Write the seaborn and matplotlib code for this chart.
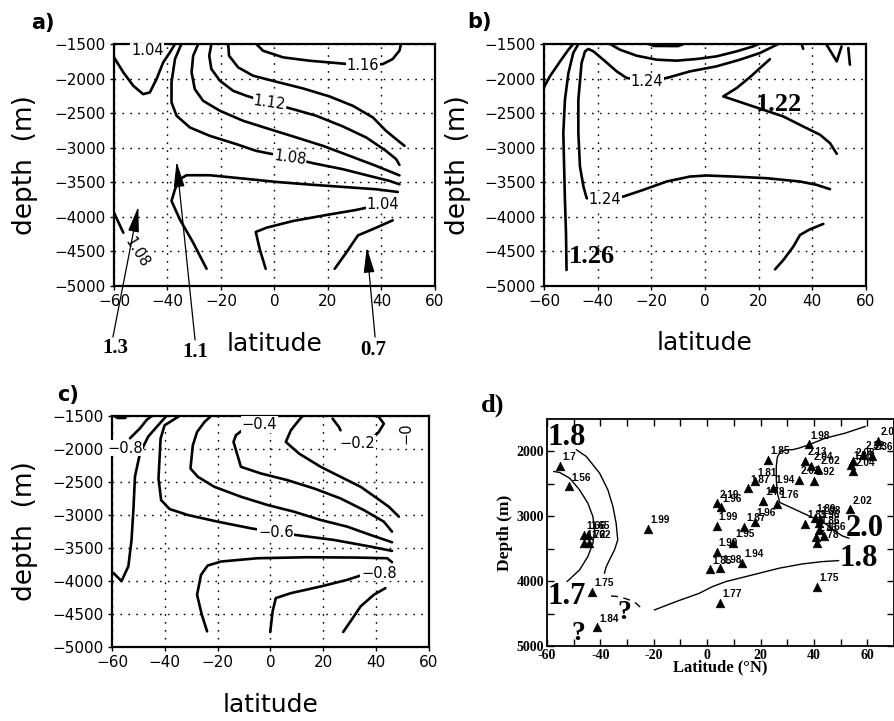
import matplotlib
matplotlib.use("Agg")
import matplotlib.pyplot as plt
import seaborn as sns

sns.set_theme(style="white")
plt.rcParams["font.family"] = ["DejaVu Sans"]
plt.rcParams["axes.unicode_minus"] = True
for key in ["text.color", "axes.labelcolor", "xtick.color", "ytick.color", "axes.edgecolor"]:
    plt.rcParams[key] = "black"

# ---------------- axis ticks ----------------
LAT_TICKS = [-60, -40, -20, 0, 20, 40, 60]
LAT_TICK_LABELS = ["\u221260", "\u221240", "\u221220", "0", "20", "40", "60"]
DEPTH_TICKS = [-1500, -2000, -2500, -3000, -3500, -4000, -4500, -5000]
DEPTH_TICK_LABELS = ["\u22121500", "\u22122000", "\u22122500", "\u22123000",
                     "\u22123500", "\u22124000", "\u22124500", "\u22125000"]
D_LAT_TICK_LABELS = ["-60", "-40", "-20", "0", "20", "40", "60"]
D_DEPTH_TICKS = [2000, 3000, 4000, 5000]
D_DEPTH_TICK_LABELS = ["2000", "3000", "4000", "5000"]

# ---------------- panel a: contour polylines ----------------
A1_LAT = [-60, -56.5, -52.8, -49.1, -46.6, -44.1, -41.6, -39.1, -37.2]
A1_DEP = [-1693, -1911, -2104, -2225, -2200, -2007, -1766, -1621, -1500]
A2_LAT = [-34.8, -37.2, -38.5, -38.5, -36.6, -31.6, -24.2, -14.2, -6.8, 5.7, 14.4, 25.6, 35.5, 43.0, 46.7]
A2_DEP = [-1500, -1717, -2055, -2345, -2538, -2708, -2828, -2949, -3046, -3142, -3224, -3311, -3408, -3480, -3529]
A3_LAT = [-28.5, -30.4, -31.0, -29.8, -26.7, -20.4, -11.7, -1.8, 8.2, 18.1, 28.1, 38.0, 44.2, 46.7]
A3_DEP = [-1500, -1669, -1911, -2152, -2321, -2466, -2611, -2732, -2852, -2973, -3118, -3263, -3360, -3400]
A4_LAT = [-23.6, -24.4, -23.6, -20.4, -15.5, -10.5, -1.8, 6.9, 15.6, 25.6, 34.3, 41.7, 45.5, 46.7]
A4_DEP = [-1500, -1669, -1862, -2031, -2176, -2249, -2355, -2442, -2538, -2693, -2852, -3046, -3166, -3248]
A5_LAT = [-17.3, -17.0, -13.6, -8.0, 0.7, 10.6, 20.6, 29.3, 36.8, 41.7, 45.5, 48.6]
A5_DEP = [-1500, -1669, -1838, -1959, -2046, -2142, -2259, -2394, -2563, -2756, -2877, -2973]
A6_LAT = [-6.8, -4.3, 3.2, 13.1, 23.1, 33.0, 40.5, 44.2, 46.7, 47.3]
A6_DEP = [-1500, -1597, -1693, -1742, -1775, -1810, -1790, -1717, -1597, -1500]
A7_LAT = [-25.4, -30.4, -35.4, -38.5, -37.2, -35.4, -32.9, -24.2, -11.7, 0.7, 13.1, 25.6, 38.0, 46.1]
A7_DEP = [-4751, -4374, -4036, -3770, -3601, -3456, -3398, -3398, -3446, -3495, -3533, -3567, -3601, -3640]
A8_LAT = [-3.3, -5.5, -7.0, -3.0, 6.9, 19.4, 30.5, 40.5]
A8_DEP = [-4751, -4470, -4219, -4157, -4060, -3973, -3900, -3818]
A9_LAT = [22.5, 26.8, 31.2, 38.0, 44.2]
A9_DEP = [-4751, -4519, -4268, -4157, -4050]
A10_LAT = [-60, -58.4, -56.5]
A10_DEP = [-3939, -4074, -4229]

# contour labels of panel a: (text, lat, depth, rotation)
A_LABEL_TEXT = ["1.04", "1.08", "1.12", "1.16", "1.04", "1.08"]
A_LABEL_LAT = [-47.5, 5.7, -1.8, 33.0, 40.5, -51.5]
A_LABEL_DEP = [-1600, -3140, -2350, -1815, -3818, -4520]
A_LABEL_ROT = [0, -8, -8, 0, 0, -58]

# arrows pointing into panel a and their values
ARROW_TEXT = ["1.3", "1.1", "0.7"]
ARROW_HEAD_LAT = [-50.9, -36.6, 34.5]
ARROW_HEAD_DEP = [-3853, -3202, -4441]
ARROW_TAIL_LAT = [-60.4, -29.7, 37.6]
ARROW_TAIL_DEP = [-5738, -5781, -5738]
ARROW_TEXT_LAT = [-59.6, -29.7, 36.9]
ARROW_TEXT_DEP = [-5900, -5960, -5930]

# ---------------- panel b ----------------
B1_LAT = [-60, -57.8, -54.0, -50.9, -49.1]
B1_DEP = [-2123, -1968, -1751, -1582, -1500]
B2_LAT = [-47.2, -49.1, -50.9, -52.2, -52.8, -52.5, -52.2, -51.8, -51.6]
B2_DEP = [-1500, -1630, -1920, -2306, -2789, -3272, -3755, -4237, -4769]
B3_LAT = [46.6, 41.6, 35.4, 23.0, 10.6, 0.6, -5.6, -14.3, -23.0, -30.4, -37.3, -44.1, -45.3,
          -46.6, -47.2, -47.2, -46.0, -44.7, -43.5, -41.6, -37.9, -32.9, -29.2, -21.7, -14.3,
          -5.6, 4.3, 13.0, 20.5, 27.3]
B3_DEP = [-3600, -3537, -3489, -3441, -3417, -3402, -3417, -3489, -3610, -3706, -3740, -3730, -3562,
          -3272, -2789, -2306, -1775, -1606, -1572, -1606, -1727, -1896, -1992, -2030, -1992,
          -1896, -1823, -1727, -1630, -1500]
B4_LAT = [49.1, 46.6, 42.9, 36.6, 29.2, 21.7, 14.3, 6.8, 11.8, 16.8, 20.5, 24.2]
B4_DEP = [-3088, -2934, -2813, -2693, -2548, -2451, -2355, -2258, -2137, -1978, -1848, -1720]
B5_LAT = [26.1, 29.2, 32.9, 35.4, 39.1, 44.1]
B5_DEP = [-4759, -4624, -4431, -4262, -4180, -4102]
B6_LAT = [-35.4, -31.7, -25.5, -18.0, -10.6, -3.1, 4.3, 11.8, 18.0, 19.9]
B6_DEP = [-1500, -1582, -1669, -1727, -1741, -1717, -1679, -1606, -1534, -1500]
B7_LAT = [45.3, 49.1, 50.9]
B7_DEP = [-1510, -1751, -1534]
B8_LAT = [53.4, 54.0]
B8_DEP = [-1558, -1799]
B9_LAT = [-21.0, -19.0, -10.0, -8.0]
B9_DEP = [-1500, -1528, -1530, -1500]
B10_LAT = [36.0, 36.6]
B10_DEP = [-1500, -1570]

B_LABEL_TEXT = ["1.24", "1.24"]
B_LABEL_LAT = [-21.7, -37.3]
B_LABEL_DEP = [-2040, -3750]
B_BIG_TEXT = ["1.22", "1.26"]
B_BIG_LAT = [27.5, -42.0]
B_BIG_DEP = [-2380, -4575]

# ---------------- panel c ----------------
C1_LAT = [-59.5, -56.4, -53.8, -52.6, -51.9, -51.3, -49.4, -46.3, -41.9, -39.4]
C1_DEP = [-3876, -4002, -3776, -3373, -2920, -2416, -2064, -1812, -1611, -1500]
C2_LAT = [-53.2, -49.4, -46.9, -45.0]
C2_DEP = [-1837, -1686, -1560, -1500]
C3_LAT = [-34.5, -40.1, -41.6, -42.4, -41.4, -38.2, -31.3, -20.0, -7.4, 2.0, 9.6, 24.0, 37.9, 46.0]
C3_DEP = [-1500, -1641, -1842, -2447, -2774, -2910, -3000, -3101, -3202, -3262, -3303, -3378, -3479, -3544]
C4_LAT = [-22.5, -25.0, -27.8, -29.4, -30.3, -27.5, -21.3, -11.2, -1.1, 8.9, 19.0, 29.1, 37.9, 46.0]
C4_DEP = [-1500, -1591, -1742, -1943, -2296, -2421, -2572, -2723, -2849, -2950, -3076, -3177, -3303, -3413]
C5_LAT = [2.0, 0.8, -4.3, -9.9, -13.1, -14.0, -12.5, -11.2, -3.6, 6.4, 16.5, 26.5, 35.3, 42.9, 46.0]
C5_DEP = [-1500, -1566, -1631, -1691, -1792, -1893, -2094, -2270, -2371, -2472, -2598, -2749, -2925, -3101, -3252]
C6_LAT = [12.1, 10.2, 7.7, 5.8, 10.8, 19.0, 26.5, 34.1, 40.4, 44.8, 48.6]
C6_DEP = [-1500, -1591, -1717, -1893, -2069, -2270, -2421, -2572, -2749, -2875, -3026]
C7_LAT = [23.5, 25.9, 26.5]
C7_DEP = [-1540, -1666, -1717]
C8_LAT = [41.0, 42.9, 41.0, 39.1]
C8_DEP = [-1515, -1616, -1742, -1817]
C9_LAT = [-24.0, -26.0, -27.8, -26.3, -23.8, -18.7, -4.9, 14.0, 32.8, 44.2, 46.0]
C9_DEP = [-4763, -4511, -4209, -3907, -3766, -3705, -3655, -3640, -3645, -3655, -3715]
C10_LAT = [-0.1, 0.8, 2.0, 7.7, 19.0, 29.1, 34.1, 41.0]
C10_DEP = [-4773, -4460, -4259, -4184, -4083, -3982, -3917, -3882]
C11_LAT = [27.5, 30.3, 34.1, 39.1, 43.5]
C11_DEP = [-4773, -4611, -4385, -4209, -4108]
C12_LAT = [-59.0, -58.0, -55.0, -54.5]
C12_DEP = [-1500, -1530, -1530, -1500]

C_LABEL_TEXT = ["\u22120.8", "\u22120.6", "\u22120.4", "\u22120.2", "\u22120.8", "\u22120"]
C_LABEL_LAT = [-55.1, 2.0, -4.3, 32.8, 41.0, 51.2]
C_LABEL_DEP = [-1988, -3262, -1631, -1918, -3882, -1760]
C_LABEL_ROT = [0, 0, 0, 0, 0, 90]

# ---------------- panel d: station values ----------------
D_PT_LAT = [-55.2, -51.7, -46.1, -44.6, -46.1, -44.3, -22.2, -43.1, -41.3,
            38.0, 22.9, 36.8, 39.0, 41.7, 34.3, 39.9, 17.9, 15.4, 24.6, 20.9, 26.2,
            3.8, 5.1, 64.1, 61.6, 58.5, 54.8, 53.9, 54.8, 53.6,
            3.6, 13.8, 17.8, 9.8, 3.6, 1.0, 4.9, 13.2, 4.9, 41.1,
            36.8, 40.3, 42.1, 41.8, 41.8, 43.9, 40.7, 41.1]
D_PT_DEP = [2221, 2540, 3286, 3286, 3415, 3415, 3193, 4162, 4711,
            1886, 2128, 2144, 2221, 2272, 2437, 2452, 2463, 2565, 2565, 2761, 2807,
            2797, 2858, 1835, 2066, 2051, 2154, 2205, 2309, 2890,
            3147, 3158, 3081, 3405, 3544, 3816, 3801, 3713, 4331, 4084,
            3116, 3019, 3044, 3106, 3209, 3301, 3312, 3415]
D_PT_TEXT = ["1.7", "1.56", "1.66", "1.65", "1.72", "1.62", "1.99", "1.75", "1.84",
             "1.98", "1.85", "2.13", "2.04", "2.02", "2.01", "1.92", "1.81", "1.87", "1.94", "1.78", "1.76",
             "2.19", "1.96", "2.07", "2.36", "2.32", "2.08", "1.98", "2.04", "2.02",
             "1.99", "1.87", "1.96", "1.95", "1.99", "1.85", "1.98", "1.94", "1.77", "1.75",
             "1.85", "1.89", "1.98", "1.96", "1.86", "1.66", "1.76", "1.78"]

# ---------------- panel d: contour polylines ----------------
D1_LAT = [-49.0, -45.3, -40.3, -37.2, -35.3, -34.1, -33.5, -34.7, -36.6, -37.8, -38.5]
D1_DEP = [1974, 2077, 2335, 2592, 2849, 3107, 3364, 3518, 3673, 3776, 3879]
D2_LAT = [-57.5, -55.3, -51.5, -47.8, -44.7, -42.8, -42.2, -42.8, -44.7, -47.8, -52.5]
D2_DEP = [2309, 2324, 2412, 2592, 2798, 3004, 3210, 3415, 3621, 3827, 4007]
D3_LAT = [-36.0, -32.9, -29.1, -26.6, -25.0]
D3_DEP = [4229, 4239, 4290, 4342, 4404]
D4_LAT = [-19.8, -11.7, -3.0, 2.0, 7.0, 17.0, 26.9, 35.6, 43.1, 49.3]
D4_DEP = [4445, 4316, 4188, 4084, 4007, 3904, 3801, 3735, 3699, 3683]
D5_LAT = [59.3, 51.8, 44.4, 38.1, 34.4, 31.9, 30.0, 27.5, 26.3, 25.9, 25.9, 26.3, 27.2,
          31.9, 38.1, 44.4, 48.1, 50.6, 53.1]
D5_DEP = [1614, 1717, 1794, 1897, 1949, 1974, 1974, 2000, 2088, 2232, 2437, 2643, 2787,
          2875, 2993, 3117, 3235, 3302, 3338]

D_BIG_TEXT = ["1.8", "1.7", "2.0", "1.8", "?", "?"]
D_BIG_LAT = [-59.8, -59.8, 59.2, 56.7, -30.9, -48.3]
D_BIG_DEP = [1790, 4230, 3190, 3650, 4480, 4800]
D_BIG_HA = ["left", "left", "center", "center", "center", "center"]

# ---------------------------------------------------------------
fig = plt.figure(figsize=(8.95, 7.21), dpi=100)


def contour_line(ax, lat, dep, lw=1.9, ls="-"):
    sns.lineplot(x=lat, y=dep, ax=ax, sort=False, estimator=None, color="black",
                 linewidth=lw, linestyle=ls, legend=False)


def contour_label(ax, text, lat, dep, rot=0, size=10.5):
    ax.text(lat, dep, text, ha="center", va="center", rotation=rot, fontsize=size,
            color="black", zorder=5,
            bbox=dict(boxstyle="square,pad=0.05", fc="white", ec="none"))


def grads_axes(rect, xlab_y, ylab_x):
    ax = fig.add_axes(rect)
    ax.set_xlim(-60, 60)
    ax.set_ylim(-5000, -1500)
    ax.set_xticks(LAT_TICKS, LAT_TICK_LABELS)
    ax.set_yticks(DEPTH_TICKS, DEPTH_TICK_LABELS)
    ax.tick_params(direction="out", length=3, width=1, labelsize=11, pad=3,
                   bottom=True, left=True, colors="black")
    ax.grid(True, color="black", linestyle=(0, (1.2, 4.5)), linewidth=1.0)
    for s in ax.spines.values():
        s.set_color("black")
        s.set_linewidth(1.6)
    ax.set_xlabel("latitude", fontsize=18, va="center")
    ax.set_ylabel("depth  (m)", fontsize=19, va="center")
    ax.xaxis.set_label_coords(0.5, xlab_y)
    ax.yaxis.set_label_coords(ylab_x, 0.5)
    return ax


# ---------------- panel a ----------------
ax_a = grads_axes([114 / 895, 1 - 286 / 721, 321 / 895, 242 / 721], -0.24, -0.277)
for la, de in [(A1_LAT, A1_DEP), (A2_LAT, A2_DEP), (A3_LAT, A3_DEP), (A4_LAT, A4_DEP),
               (A5_LAT, A5_DEP), (A6_LAT, A6_DEP), (A7_LAT, A7_DEP), (A8_LAT, A8_DEP),
               (A9_LAT, A9_DEP), (A10_LAT, A10_DEP)]:
    contour_line(ax_a, la, de)
for t, la, de, r in zip(A_LABEL_TEXT, A_LABEL_LAT, A_LABEL_DEP, A_LABEL_ROT):
    contour_label(ax_a, t, la, de, r)
for t, hx, hy, tx, ty, lx, ly in zip(ARROW_TEXT, ARROW_HEAD_LAT, ARROW_HEAD_DEP,
                                     ARROW_TAIL_LAT, ARROW_TAIL_DEP,
                                     ARROW_TEXT_LAT, ARROW_TEXT_DEP):
    ax_a.annotate("", xy=(hx, hy), xytext=(tx, ty), annotation_clip=False, zorder=6,
                  arrowprops=dict(arrowstyle="-|>,head_length=1.3,head_width=0.28",
                                  color="black", lw=0.9, shrinkA=0, shrinkB=0))
    ax_a.text(lx, ly, t, ha="center", va="center", fontsize=15, fontweight="bold",
              family="Liberation Serif", clip_on=False)

# ---------------- panel b ----------------
ax_b = grads_axes([544 / 895, 1 - 286 / 721, 322 / 895, 242 / 721], -0.236, -0.267)
for la, de in [(B1_LAT, B1_DEP), (B2_LAT, B2_DEP), (B3_LAT, B3_DEP), (B4_LAT, B4_DEP),
               (B5_LAT, B5_DEP), (B6_LAT, B6_DEP), (B7_LAT, B7_DEP), (B8_LAT, B8_DEP),
               (B9_LAT, B9_DEP), (B10_LAT, B10_DEP)]:
    contour_line(ax_b, la, de)
for t, la, de in zip(B_LABEL_TEXT, B_LABEL_LAT, B_LABEL_DEP):
    contour_label(ax_b, t, la, de, 0, 10.5)
for t, la, de in zip(B_BIG_TEXT, B_BIG_LAT, B_BIG_DEP):
    ax_b.text(la, de, t, ha="center", va="center", fontsize=19, fontweight="bold",
              family="Liberation Serif", zorder=6)

# ---------------- panel c ----------------
ax_c = grads_axes([112 / 895, 1 - 647 / 721, 317 / 895, 231 / 721], -0.251, -0.274)
for la, de in [(C1_LAT, C1_DEP), (C2_LAT, C2_DEP), (C3_LAT, C3_DEP), (C4_LAT, C4_DEP),
               (C5_LAT, C5_DEP), (C6_LAT, C6_DEP), (C7_LAT, C7_DEP), (C8_LAT, C8_DEP),
               (C9_LAT, C9_DEP), (C10_LAT, C10_DEP), (C11_LAT, C11_DEP), (C12_LAT, C12_DEP)]:
    contour_line(ax_c, la, de)
for t, la, de, r in zip(C_LABEL_TEXT, C_LABEL_LAT, C_LABEL_DEP, C_LABEL_ROT):
    contour_label(ax_c, t, la, de, r)

# ---------------- panel d ----------------
ax_d = fig.add_axes([547 / 895, 1 - 646 / 721, 347 / 895, 227 / 721])
serif = "Liberation Serif"
for la, de in [(D1_LAT, D1_DEP), (D2_LAT, D2_DEP), (D4_LAT, D4_DEP), (D5_LAT, D5_DEP)]:
    contour_line(ax_d, la, de, lw=1.0)
contour_line(ax_d, D3_LAT, D3_DEP, lw=1.0, ls=(0, (5, 4)))
sns.scatterplot(x=D_PT_LAT, y=D_PT_DEP, ax=ax_d, marker="^", s=38, color="black",
                edgecolor="black", linewidth=0.5, legend=False, zorder=4)
for t, la, de in zip(D_PT_TEXT, D_PT_LAT, D_PT_DEP):
    ax_d.annotate(t, (la, de), xytext=(1.5, 2.5), textcoords="offset points",
                  fontsize=7.2, family="Liberation Sans", fontweight="bold",
                  ha="left", va="bottom", zorder=5)
for t, la, de, ha in zip(D_BIG_TEXT, D_BIG_LAT, D_BIG_DEP, D_BIG_HA):
    ax_d.text(la, de, t, ha=ha, va="center", fontsize=22 if t != "?" else 20,
              fontweight="bold", family=serif, zorder=6)
ax_d.set_xlim(-60, 70)
ax_d.set_ylim(5000, 1500)
ax_d.set_xticks(LAT_TICKS, D_LAT_TICK_LABELS)
ax_d.set_yticks(D_DEPTH_TICKS, D_DEPTH_TICK_LABELS)
ax_d.set_xticks(list(range(-50, 70, 20)), minor=True)
ax_d.set_yticks([2500, 3500, 4500], minor=True)
ax_d.tick_params(which="both", direction="in", top=True, right=True, bottom=True, left=True,
                 colors="black", width=1.0)
ax_d.tick_params(which="major", length=5, labelsize=10, pad=2)
ax_d.tick_params(which="minor", length=5)
for lab in ax_d.get_xticklabels() + ax_d.get_yticklabels():
    lab.set_family(serif)
    lab.set_fontweight("bold")
for s in ax_d.spines.values():
    s.set_color("black")
    s.set_linewidth(1.3)
ax_d.set_xlabel("Latitude (\u00b0N)", fontsize=12, fontweight="bold", family=serif, va="center")
ax_d.set_ylabel("Depth (m)", fontsize=12.5, fontweight="bold", family=serif, va="center")
ax_d.xaxis.set_label_coords(0.5, -0.093)
ax_d.yaxis.set_label_coords(-0.121, 0.5)
ax_d.grid(False)

# ---------------- panel letters ----------------
fig.text(43 / 895, 1 - 23 / 721, "a)", fontsize=15, fontweight="bold", ha="center", va="center")
fig.text(480 / 895, 1 - 22 / 721, "b)", fontsize=15, fontweight="bold", ha="center", va="center")
fig.text(68 / 895, 1 - 395 / 721, "c)", fontsize=15, fontweight="bold", ha="center", va="center")
fig.text(493 / 895, 1 - 405 / 721, "d)", fontsize=19, fontweight="bold", ha="center",
         va="center", family=serif)

fig.savefig("out.png", dpi=100)
